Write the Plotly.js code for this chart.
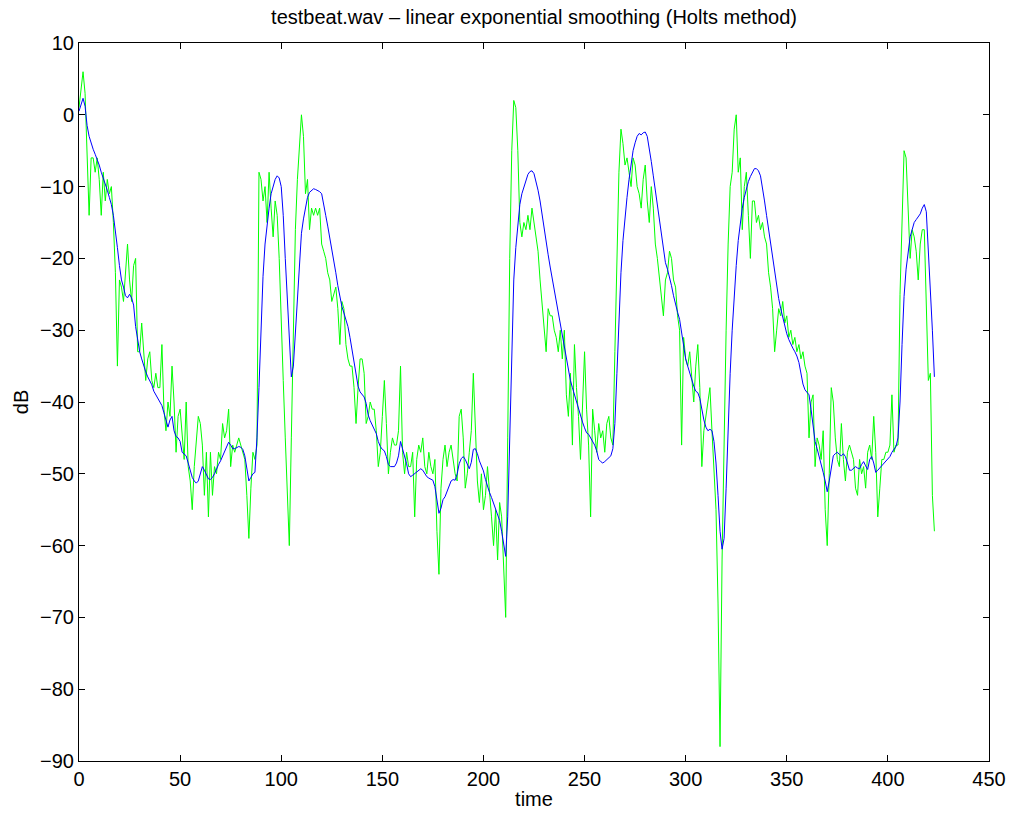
<!DOCTYPE html>
<html>
<head>
<meta charset="utf-8">
<script src="https://cdn.plot.ly/plotly-3.0.1.min.js"></script>
<style>
  html, body { margin: 0; padding: 0; background: #ffffff; }
  #chart { width: 1010px; height: 815px; }
</style>
</head>
<body>
<div id="chart"></div>
<script>
// Frame level (dB) of testbeat.wav, one value per time step
const levelDb = [
  1, 4, 6, 3, -7, -14, -6, -6, -8, -6,
  -9, -14, -8, -12, -9, -11, -10, -15, -22, -35,
  -23, -24, -26, -22, -18, -23, -26, -21, -20, -33,
  -33, -29, -33, -37, -34, -33, -37, -38, -36, -38,
  -38, -32, -41, -44, -40, -42, -35, -40, -47, -42,
  -41, -45, -48, -40, -49, -51, -55, -49, -46, -42,
  -43, -46, -53, -47, -56, -47, -53, -49, -50, -47,
  -48, -43, -45, -44, -41, -49, -46, -47, -46, -45,
  -46, -47, -48, -53, -59, -52, -47, -48, -46, -8,
  -9, -12, -10, -15, -8, -13, -17, -12, -14, -20,
  -30, -37, -45, -52, -60, -45, -30, -16, -9, -5,
  0, -3, -11, -9, -16, -13, -14, -13, -14, -13,
  -18, -19, -20, -22, -23, -26, -25, -24, -27, -32,
  -26, -27, -32, -34, -35, -35, -38, -43, -38, -34,
  -34, -36, -43, -42, -40, -41, -41, -44, -49, -47,
  -42, -37, -43, -50, -47, -45, -46, -46, -44, -35,
  -47, -50, -47, -49, -49, -47, -56, -48, -46, -47,
  -45, -49, -50, -47, -49, -50, -48, -58, -64, -52,
  -48, -46, -49, -47, -46, -48, -50, -51, -42, -41,
  -45, -52, -50, -47, -44, -36, -45, -51, -54, -50,
  -55, -53, -49, -52, -56, -60, -55, -62, -54, -56,
  -63, -70, -45, -20, -5, 2, 1, -5, -15, -17,
  -15, -16, -14, -16, -13, -15, -17, -19, -23, -26,
  -29, -33, -27, -28, -28, -30, -31, -33, -30, -34,
  -30, -39, -42, -36, -46, -32, -38, -42, -48, -40,
  -33, -41, -46, -56, -41, -44, -47, -43, -45, -44,
  -47, -43, -42, -45, -46, -33, -21, -8, -2, -4,
  -7, -6, -8, -10, -6, -7, -10, -11, -13, -9,
  -7, -12, -15, -10, -13, -18, -20, -23, -26, -28,
  -23, -22, -19, -20, -23, -24, -28, -30, -46, -31,
  -34, -35, -33, -37, -40, -35, -32, -38, -49, -44,
  -42, -40, -38, -44, -49, -55, -68, -88, -62, -45,
  -30, -18, -10, -8, -2, 0, -8, -6, -16, -10,
  -8, -14, -20, -12, -12, -15, -14, -16, -15, -17,
  -18, -22, -24, -27, -33, -30, -27, -28, -26, -29,
  -28, -31, -30, -32, -31, -33, -32, -34, -33, -35,
  -36, -45, -40, -39, -49, -45, -46, -48, -44, -55,
  -60, -50, -38, -40, -45, -48, -49, -43, -48, -51,
  -47, -46, -47, -48, -52, -53, -48, -50, -49, -52,
  -47, -46, -48, -42, -47, -56, -52, -48, -48, -47,
  -47, -46, -39, -47, -46, -46, -25, -14, -5, -6,
  -13, -20, -16, -17, -19, -23, -18, -16, -16, -26,
  -37, -36, -53, -58
];

// Holt (linear exponential) smoothed level, same time steps
const smoothedDb = [
  0.5, 1.5, 2.3, 1.2, -1.5, -3, -4, -4.8, -5.5, -6.2,
  -7, -8, -8.8, -9.6, -10.5, -11.5, -12.5, -14, -16, -18.5,
  -21, -23, -24, -25.2, -25.5, -25, -25.5, -26.5, -29.5, -31.5,
  -33, -34, -35, -35.8, -36.5, -37, -37.6, -38.5, -39, -39.6,
  -40, -40.5, -41.5, -42.5, -43.5, -42.5, -42, -44, -44.8, -45,
  -45.5, -47, -47.2, -47.5, -48.5, -49.5, -50.5, -51, -51.3, -51,
  -50, -49, -49.5, -50.2, -50.7, -50.8, -50.5, -50, -49.3, -48.7,
  -48.2, -47.6, -47, -46.2, -45.6, -46, -46.5, -46.5, -46.3, -46.2,
  -46.3, -46.6, -47.5, -49.5, -51, -50.5, -50, -49.8, -45, -38,
  -29, -22.5, -18, -15, -13, -11, -9.8, -9, -8.5, -8.8,
  -10, -14, -20, -26, -32, -36.5, -35, -30, -25, -20,
  -16.5, -14.5, -13, -11.5, -10.8, -10.5, -10.3, -10.4, -10.5, -10.7,
  -11, -12.3, -14, -15.5, -17, -18.8, -20.5, -22, -23.8, -25.5,
  -26.7, -27.6, -28.5, -29.5, -31, -32.7, -34.5, -36.2, -37.8, -38.6,
  -39, -39.3, -40.2, -41.8, -42.6, -43.2, -43.6, -44.4, -45.5, -46.2,
  -46.6, -46.8, -47.6, -48.7, -49, -49, -49, -48.5, -47.5, -45.5,
  -46.5, -47.8, -48.6, -50, -50.4, -50.2, -50, -49.8, -49.5, -49.3,
  -49.5, -50, -50.4, -50.6, -50.8, -50.9, -51.8, -53.5, -55.5, -54.8,
  -53.6, -53.2, -52.5, -51.6, -51, -50.8, -50.9, -50, -48.6, -47.9,
  -47.6, -48, -48.8, -49.3, -48.4, -46.6, -46.5, -47.2, -48.2, -48.8,
  -49.6, -50.8, -51.8, -52.6, -53.3, -54.1, -54.8, -55.5, -56.5, -58,
  -60, -61.5, -56, -44, -31, -23, -18.5, -15, -12.5, -11,
  -10, -9, -8.3, -7.9, -7.8, -8.2, -9.3, -10.5, -12, -14,
  -16, -17.8, -19.5, -21.2, -22.8, -24.4, -25.9, -27.4, -28.9, -30.4,
  -32, -33.8, -35.5, -37, -38, -39, -40, -40.8, -41.8, -42.8,
  -43.6, -44.3, -44.5, -45, -45.3, -46, -46.8, -48, -48.3, -48.5,
  -48.3, -48, -47.8, -47.5, -46.5, -43, -36, -28, -22, -17.5,
  -14, -11.5, -9, -7, -5, -3.9, -3, -2.6, -2.8, -2.5,
  -2.4, -3, -4.5, -6.5, -8.5, -10.5, -12.5, -14.8, -17, -19.2,
  -20.6, -21.5, -22.5, -23.8, -25.2, -26.5, -27.5, -28.5, -30.5, -32.5,
  -34, -35, -36, -37, -37.8, -38.5, -38.7, -39.5, -41.2, -42.5,
  -43.5, -44, -43.8, -44, -45.5, -48.5, -53, -58, -60.5, -59,
  -52, -43, -36, -30, -25, -21, -17.5, -15, -13, -11.5,
  -10.2, -9.3, -8.6, -8, -7.5, -7.5, -7.8, -8.5, -10, -12,
  -14, -16, -18, -20, -22, -24, -25.6, -27, -28.3, -29.5,
  -30.5, -31.3, -32, -32.5, -33, -33.6, -34.5, -36, -37.5, -38.3,
  -38.6, -39, -41, -43.5, -45.5, -46.5, -47.5, -48.8, -49.8, -51,
  -52.5, -51, -49, -47.5, -47.2, -47, -47.3, -47.5, -47.2, -47.6,
  -48.5, -49.5, -49.5, -49.2, -49, -49.2, -49.3, -48.7, -48.3, -48.9,
  -49.4, -48, -47.6, -48.5, -49.8, -49.5, -49.2, -48.9, -48.6, -48.3,
  -48, -47.6, -47, -46.5, -46.2, -45, -40, -32, -25.3, -21.5,
  -19, -17, -16, -15, -14.6, -14.2, -13.8, -13, -12.5, -13.5,
  -18.5, -25, -30, -36.5
];

// Time steps (frame index)
const levelTime = levelDb.map((_, i) => i);
const smoothedTime = smoothedDb.map((_, i) => i);

const xTicks = [0, 50, 100, 150, 200, 250, 300, 350, 400, 450];
const yTicks = [10, 0, -10, -20, -30, -40, -50, -60, -70, -80, -90];

const font = 'Liberation Sans, Arial, Helvetica, sans-serif';

const traces = [
  {
    x: levelTime, y: levelDb, type: 'scatter', mode: 'lines',
    line: { color: '#00ff00', width: 1 }, hoverinfo: 'skip'
  },
  {
    x: smoothedTime, y: smoothedDb, type: 'scatter', mode: 'lines',
    line: { color: '#0000ff', width: 1 }, hoverinfo: 'skip'
  }
];

const axisCommon = {
  showgrid: false, zeroline: false,
  showline: true, linecolor: '#000000', linewidth: 1,
  mirror: 'ticks', ticks: 'inside', ticklen: 6, tickcolor: '#000000', tickwidth: 1,
  tickfont: { family: font, size: 20, color: '#000000' }
};

const layout = {
  width: 1010, height: 815,
  paper_bgcolor: '#ffffff', plot_bgcolor: '#ffffff',
  margin: { l: 79, r: 21, t: 43, b: 54 },
  showlegend: false,
  title: {
    text: 'testbeat.wav \u2013 linear exponential smoothing (Holts method)',
    font: { family: font, size: 20, color: '#000000' },
    x: 0.5, xref: 'paper', xanchor: 'center',
    y: 1 - 17 / 815, yref: 'container', yanchor: 'middle'
  },
  xaxis: Object.assign({}, axisCommon, {
    range: [0, 450], tickvals: xTicks, ticktext: xTicks.map(String),
    title: { text: 'time', font: { family: font, size: 20, color: '#000000' }, standoff: 2 }
  }),
  yaxis: Object.assign({}, axisCommon, {
    range: [-90, 10], tickvals: yTicks,
    ticktext: yTicks.map(v => (v < 0 ? '\u2212' + Math.abs(v) : String(v))),
    title: { text: 'dB', font: { family: font, size: 20, color: '#000000' }, standoff: 6 }
  })
};

Plotly.newPlot('chart', traces, layout, { staticPlot: true, displayModeBar: false });
</script>
</body>
</html>
